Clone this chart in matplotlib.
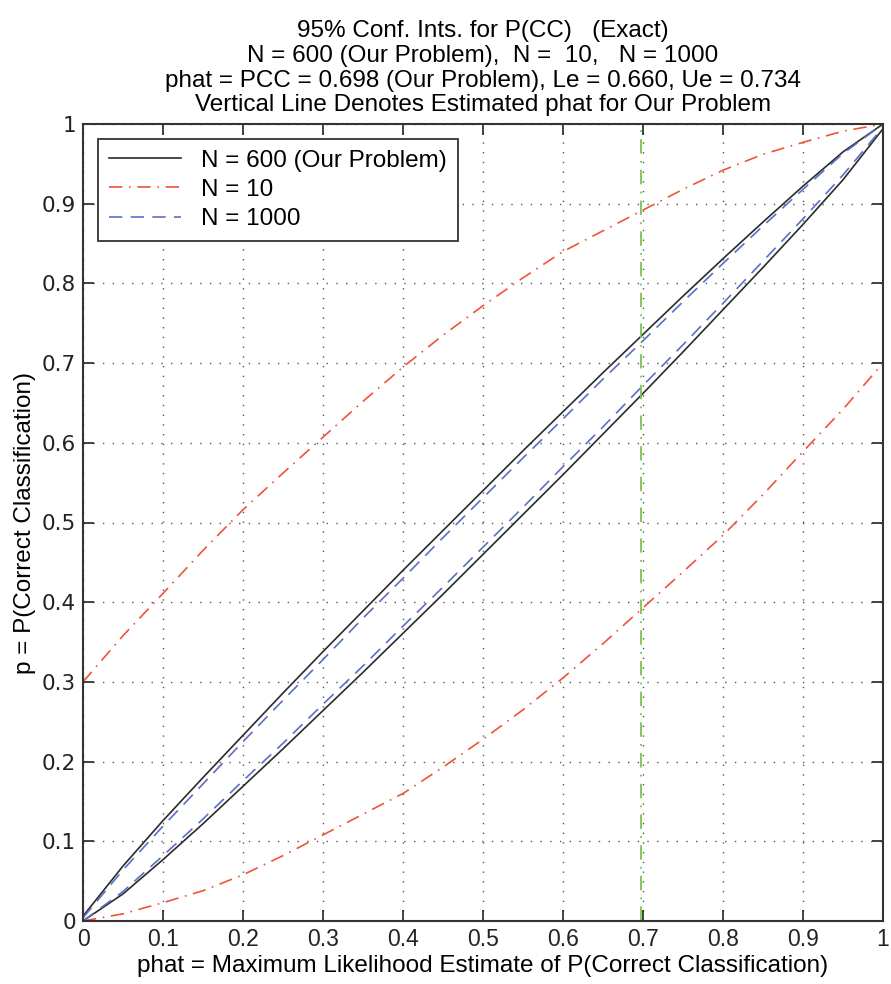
import numpy as np
import matplotlib
matplotlib.use("Agg")
import matplotlib.pyplot as plt

# phat grid (x values read at 0.05 spacing)
phat = [0.00, 0.05, 0.10, 0.15, 0.20, 0.25, 0.30, 0.35, 0.40, 0.45, 0.50,
        0.55, 0.60, 0.65, 0.70, 0.75, 0.80, 0.85, 0.90, 0.95, 1.00]

# N = 600 (Our Problem)
upper_600 = [0.006, 0.069, 0.126, 0.180, 0.233, 0.286, 0.338, 0.389, 0.440, 0.490, 0.540,
             0.590, 0.639, 0.688, 0.736, 0.784, 0.831, 0.877, 0.922, 0.965, 1.000]
lower_600 = [0.000, 0.034, 0.077, 0.122, 0.169, 0.216, 0.264, 0.312, 0.361, 0.410, 0.460,
             0.510, 0.560, 0.611, 0.662, 0.714, 0.767, 0.820, 0.874, 0.930, 0.994]

# N = 10
upper_10 = [0.300, 0.358, 0.411, 0.465, 0.516, 0.562, 0.607, 0.652, 0.695, 0.735, 0.772,
            0.807, 0.840, 0.866, 0.892, 0.918, 0.942, 0.962, 0.977, 0.991, 1.000]
lower_10 = [0.000, 0.009, 0.023, 0.038, 0.058, 0.082, 0.108, 0.134, 0.160, 0.193, 0.228,
            0.265, 0.305, 0.348, 0.393, 0.438, 0.484, 0.535, 0.589, 0.642, 0.700]

# N = 1000
upper_1000 = [0.004, 0.064, 0.119, 0.172, 0.225, 0.277, 0.328, 0.380, 0.430, 0.481, 0.531,
              0.581, 0.630, 0.680, 0.728, 0.777, 0.825, 0.872, 0.918, 0.963, 1.000]
lower_1000 = [0.000, 0.037, 0.082, 0.128, 0.176, 0.223, 0.272, 0.320, 0.370, 0.419, 0.469,
              0.519, 0.570, 0.620, 0.672, 0.723, 0.775, 0.828, 0.881, 0.936, 0.996]

phat_ours = 0.698
ticks = [0, 0.1, 0.2, 0.3, 0.4, 0.5, 0.6, 0.7, 0.8, 0.9, 1]
tick_labels = ["0", "0.1", "0.2", "0.3", "0.4", "0.5", "0.6", "0.7", "0.8", "0.9", "1"]

title_lines = [
    "95% Conf. Ints. for P(CC)   (Exact)",
    "N = 600 (Our Problem),  N =  10,   N = 1000",
    "phat = PCC = 0.698 (Our Problem), Le = 0.660, Ue = 0.734",
    "Vertical Line Denotes Estimated phat for Our Problem",
]

plt.rcParams["font.family"] = ["Liberation Sans", "DejaVu Sans"]

fig = plt.figure(figsize=(8.91, 9.84), dpi=100)
ax = fig.add_axes([83 / 891, 63 / 984, 800 / 891, 797 / 984])

c_black = "#2b2b2b"
c_red = "#f0523a"
c_blue = "#5a6fc8"
c_green = "#7cc44e"

ax.plot(phat, upper_600, color=c_black, lw=1.2, label="N = 600 (Our Problem)")
ax.plot(phat, lower_600, color=c_black, lw=1.2)
ax.plot(phat, upper_10, color=c_red, lw=1.2, dashes=[8, 4, 1, 4], label="N = 10")
ax.plot(phat, lower_10, color=c_red, lw=1.2, dashes=[8, 4, 1, 4])
ax.plot(phat, upper_1000, color=c_blue, lw=1.2, dashes=[8, 5], label="N = 1000")
ax.plot(phat, lower_1000, color=c_blue, lw=1.2, dashes=[8, 5])
ax.axvline(phat_ours, color=c_green, lw=1.3, dashes=[8, 4, 1, 4])

ax.set_xlim(0, 1)
ax.set_ylim(0, 1)
ax.set_xticks(ticks)
ax.set_xticklabels(tick_labels)
ax.set_yticks(ticks)
ax.set_yticklabels(tick_labels, fontfamily="DejaVu Sans", fontsize=15.5)
ax.tick_params(axis="x", labelsize=16.5)
ax.tick_params(direction="in", length=8, width=1.2, top=True, right=True,
               colors="#222222", pad=5)
ax.grid(True, color="#555555", linestyle=(0, (1, 6)), linewidth=1.0)
for s in ax.spines.values():
    s.set_linewidth(1.5)
    s.set_color("#333333")

ax.set_xlabel("phat = Maximum Likelihood Estimate of P(Correct Classification)",
              fontsize=17.5, labelpad=3)
ax.set_ylabel("p = P(Correct Classification)", fontsize=17.5, labelpad=4)
ax.set_title("\n".join(title_lines), fontsize=17.5, linespacing=1.16, pad=9)

leg = ax.legend(loc="upper left", fontsize=17.5, frameon=True, fancybox=False,
                edgecolor="#333333", framealpha=1, handlelength=3.0,
                borderpad=0.45, labelspacing=0.3, handletextpad=0.8,
                borderaxespad=0.6)
leg.get_frame().set_linewidth(1.3)

fig.savefig("out.png", dpi=100)
